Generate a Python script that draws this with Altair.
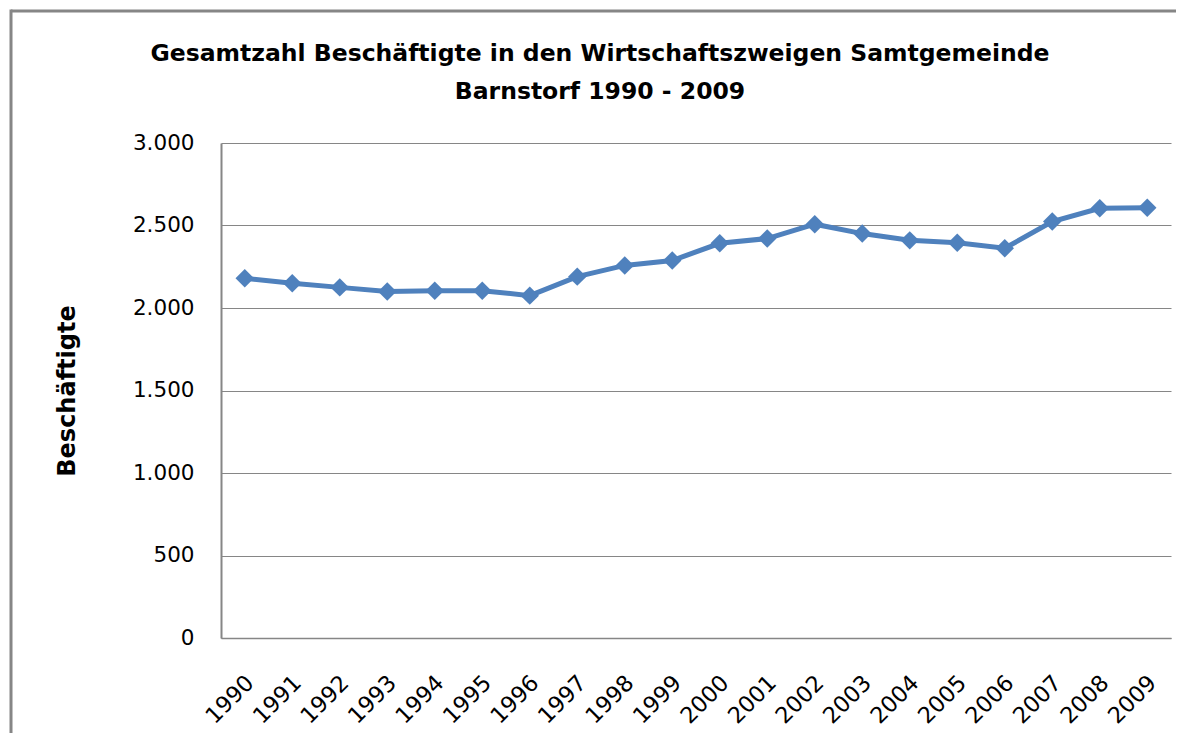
import altair as alt
import pandas as pd

years = [str(y) for y in range(1990, 2010)]
employees = [2180, 2150, 2125, 2100, 2105, 2105, 2075, 2190, 2258, 2288,
             2392, 2421, 2508, 2451, 2410, 2396, 2362, 2524, 2604, 2608]

title_lines = ["Gesamtzahl Beschäftigte in den Wirtschaftszweigen Samtgemeinde",
               "Barnstorf 1990 - 2009"]
y_title = "Beschäftigte"
y_ticks = [0, 500, 1000, 1500, 2000, 2500, 3000]

df = pd.DataFrame({"Jahr": years, "Beschaeftigte": employees})

FONT = "DejaVu Sans"
GRAY = "#868686"
BLUE = "#4F81BD"

PL, PT, PR, PB = 213, 135, 5, 95
W, H = 950, 495

x_enc = alt.X("Jahr:O", title=None,
              axis=alt.Axis(labelAngle=-45, labelAlign="right", labelBaseline="middle",
                            labelPadding=41, labelOffset=5, ticks=False,
                            labelFontSize=22.5, labelColor="#000000",
                            domainColor=GRAY, domainWidth=1.5, grid=False))
y_enc = alt.Y("Beschaeftigte:Q", title=y_title,
              scale=alt.Scale(domain=[0, 3000], nice=False),
              axis=alt.Axis(values=y_ticks, ticks=False, labelPadding=27,
                            labelExpr="replace(format(datum.value, ','), ',', '.')",
                            labelFontSize=21.5, labelColor="#000000",
                            domainColor=GRAY, domainWidth=2,
                            gridColor=GRAY, gridWidth=1,
                            titleFontSize=24, titleFontWeight="bold", titleColor="#000000",
                            titleX=67 - 8 - PL, titleY=H / 2, titleAngle=-90,
                            titleAlign="center", titleBaseline="middle"))

line = alt.Chart(df).mark_line(color=BLUE, strokeWidth=5).encode(x=x_enc, y=y_enc)
points = alt.Chart(df).mark_point(shape="diamond", filled=True, color=BLUE, size=340,
                                  opacity=1).encode(x="Jahr:O", y="Beschaeftigte:Q")

one = pd.DataFrame({"b": [1]})
border_top = alt.Chart(one).mark_rule(color=GRAY, strokeWidth=3).encode(
    x=alt.value(11 - 8 - PL), x2=alt.value(W + PR), y=alt.value(11 - 8 - PT))
border_left = alt.Chart(one).mark_rule(color=GRAY, strokeWidth=3).encode(
    x=alt.value(11 - 8 - PL), y=alt.value(11 - 8 - PT - 1.5), y2=alt.value(H + PB))

chart = alt.layer(border_top, border_left, line, points).properties(
    width=W, height=H,
    title=alt.TitleParams(text=title_lines, font=FONT, fontSize=23.5, fontWeight="bold",
                          color="#000000", anchor="middle", frame="group",
                          baseline="alphabetic", dx=-96, dy=114, offset=0,
                          lineHeight=38),
    padding={"left": PL, "top": PT, "right": PR, "bottom": PB},
    autosize=alt.AutoSizeParams(type="none"),
).configure(font=FONT).configure_view(stroke="transparent", strokeWidth=0)

chart.save("out.html", embed_options={"renderer": "svg", "actions": False})
